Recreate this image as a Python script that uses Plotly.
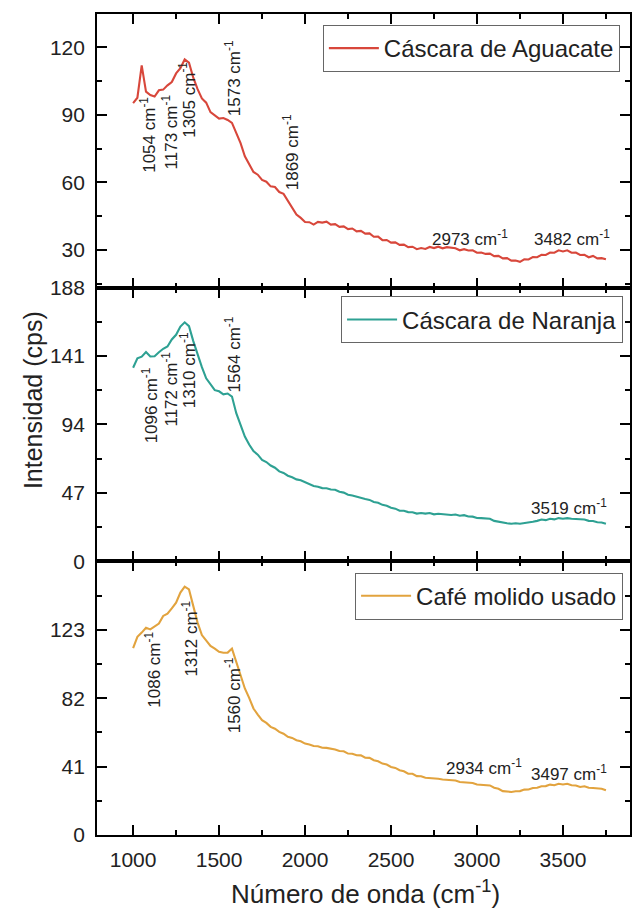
import plotly.graph_objects as go
from plotly.subplots import make_subplots

# Raman spectra of three residues, sampled every 25 cm^-1 from 1000 to 3750 cm^-1
wavenumber = list(range(1000, 3751, 25))

aguacate = [
    95.2, 97.6, 112.0, 100.3, 98.8, 98.1, 100.9, 101.2, 103.1, 104.6,
    108.4, 110.7, 114.6, 113.2, 106.5, 101.4, 97.3, 95.4, 91.2, 89.8,
    88.3, 88.6, 87.7, 86.4, 81.6, 77.4, 71.6, 68.1, 64.6, 63.4,
    61.1, 60.3, 58.2, 57.9, 55.7, 54.9, 51.8, 49.3, 45.7, 44.2,
    42.4, 42.3, 41.2, 42.4, 42.1, 42.5, 41.2, 41.4, 40.2, 40.4,
    39.2, 39.5, 38.2, 38.4, 37.2, 37.3, 35.8, 35.9, 34.3, 34.4,
    33.2, 33.3, 32.2, 32.3, 31.2, 31.4, 30.3, 30.8, 30.4, 31.3,
    30.8, 31.4, 30.7, 31.2, 30.9, 30.7, 29.8, 30.3, 29.7, 29.8,
    28.7, 28.8, 28.2, 28.3, 27.2, 27.3, 26.2, 26.3, 25.2, 25.3,
    24.7, 25.8, 25.7, 26.8, 26.7, 27.8, 27.7, 28.8, 28.7, 29.8,
    29.3, 29.8, 28.7, 28.8, 27.7, 27.8, 26.7, 27.3, 26.2, 26.3,
    25.8,
]

naranja = [
    133.0, 139.5, 140.6, 143.8, 140.7, 140.9, 143.6, 146.0, 147.6, 152.4,
    155.6, 161.3, 164.2, 161.6, 151.3, 141.6, 133.4, 125.7, 121.3, 117.6,
    116.8, 114.7, 115.3, 113.2, 101.8, 93.3, 85.7, 80.3, 75.7, 73.3,
    69.7, 68.2, 65.8, 64.3, 61.8, 60.7, 58.8, 57.7, 56.3, 55.7,
    54.3, 53.2, 51.8, 51.2, 50.3, 50.2, 49.3, 49.2, 47.8, 47.2,
    45.8, 45.2, 44.3, 43.7, 42.8, 42.2, 40.8, 40.2, 38.8, 38.2,
    36.8, 36.2, 34.8, 34.7, 33.8, 33.7, 32.8, 33.2, 32.8, 33.2,
    32.3, 32.7, 32.3, 32.2, 31.8, 32.2, 31.3, 31.7, 30.8, 30.7,
    29.8, 29.7, 29.3, 29.2, 27.8, 27.2, 26.3, 26.2, 25.8, 26.2,
    25.8, 26.2, 26.3, 27.2, 27.8, 28.7, 28.3, 29.2, 28.8, 29.7,
    29.3, 29.7, 29.3, 29.2, 28.8, 28.7, 27.8, 27.7, 26.8, 26.7,
    25.8,
]

cafe = [
    112.0, 118.8, 121.3, 124.2, 123.2, 124.8, 126.7, 131.3, 132.7, 135.8,
    139.2, 145.3, 148.8, 147.2, 136.8, 127.3, 119.8, 116.2, 113.3, 111.7,
    109.8, 109.2, 109.3, 111.7, 103.8, 96.2, 87.8, 82.2, 75.8, 72.2,
    68.8, 67.2, 64.8, 63.7, 61.8, 60.7, 58.8, 58.2, 56.8, 56.2,
    54.8, 54.2, 53.3, 53.2, 52.3, 52.2, 51.8, 51.2, 50.3, 50.2,
    48.8, 48.7, 47.8, 47.7, 46.3, 46.2, 44.8, 44.2, 42.8, 42.2,
    40.8, 40.2, 38.8, 38.2, 36.8, 36.7, 35.3, 35.2, 34.3, 34.2,
    33.8, 33.7, 33.3, 33.2, 32.8, 32.7, 31.8, 31.7, 31.3, 31.2,
    30.3, 30.2, 29.8, 29.7, 28.3, 27.7, 26.3, 26.2, 25.8, 26.2,
    26.3, 27.2, 27.3, 28.2, 28.3, 29.2, 29.3, 30.2, 29.8, 30.7,
    30.3, 30.7, 29.8, 29.7, 28.8, 29.2, 28.3, 28.2, 27.8, 27.7,
    26.8,
]

series_names = ["Cáscara de Aguacate", "Cáscara de Naranja", "Café molido usado"]
series_colors = ["#d8473b", "#2ea193", "#e2a33e"]

# Peak labels per panel: (text, x, y, rotated)
peaks_aguacate = [
    ("1054", 1085, 81, True), ("1173", 1213, 82.5, True), ("1305", 1317, 96.5, True),
    ("1573", 1578, 106.5, True), ("1869", 1920, 73.5, True),
    ("2973", 2962, 35.4, False), ("3482", 3552, 35.4, False),
]
peaks_naranja = [
    ("1096", 1097, 107, True), ("1172", 1213, 118.5, True), ("1310", 1317, 131, True),
    ("1564", 1578, 142.5, True), ("3519", 3537, 37, False),
]
peaks_cafe = [
    ("1086", 1115, 99, True), ("1312", 1329, 117.5, True), ("1560", 1578, 84, True),
    ("2934", 3039, 40.7, False), ("3497", 3537, 37, False),
]

# Axis settings for each panel
y_ranges = [[13.2, 134.8], [0, 188], [0, 164]]
y_ticks = [[30, 60, 90, 120], [0, 47, 94, 141, 188], [0, 41, 82, 123]]
y_minor = [[15, 45, 75, 105, 135], [23.5, 70.5, 117.5, 164.5], [20.5, 61.5, 102.5, 143.5]]
x_ticks = [1000, 1500, 2000, 2500, 3000, 3500]
x_minor = [1250, 1750, 2250, 2750, 3250, 3750]

FONT = "Arial, Liberation Sans, sans-serif"

fig = make_subplots(rows=3, cols=1, shared_xaxes=True, vertical_spacing=0)

all_series = [aguacate, naranja, cafe]
legend_ids = ["legend", "legend2", "legend3"]
for i, (vals, name, color) in enumerate(zip(all_series, series_names, series_colors)):
    fig.add_trace(
        go.Scatter(x=wavenumber, y=vals, mode="lines", name=name,
                   line=dict(color=color, width=2.1), legend=legend_ids[i]),
        row=i + 1, col=1,
    )

axis_common = dict(
    showline=True, linecolor="black", linewidth=1.7, mirror="allticks",
    ticks="inside", ticklen=10, tickwidth=1.7, tickcolor="black",
    showgrid=False, zeroline=False,
    tickfont=dict(family=FONT, size=21, color="#222"),
)

for i in range(3):
    fig.update_xaxes(
        range=[790, 3890], tickvals=x_ticks,
        minor=dict(tickvals=x_minor, ticks="inside", ticklen=5, tickwidth=1.7, tickcolor="black"),
        showticklabels=(i == 2), ticklabelstandoff=5,
        **axis_common, row=i + 1, col=1,
    )
    fig.update_yaxes(
        range=y_ranges[i], tickvals=y_ticks[i],
        minor=dict(tickvals=y_minor[i], ticks="inside", ticklen=5, tickwidth=1.7, tickcolor="black"),
        ticklabelstandoff=6,
        **axis_common, row=i + 1, col=1,
    )

annotations = []
for k, peaks in enumerate([peaks_aguacate, peaks_naranja, peaks_cafe]):
    suffix = "" if k == 0 else str(k + 1)
    for text, xv, yv, rot in peaks:
        annotations.append(dict(
            x=xv, y=yv, xref="x" + suffix, yref="y" + suffix,
            text=f"{text} cm<sup>-1</sup>", showarrow=False,
            textangle=-90 if rot else 0,
            font=dict(family=FONT, size=17, color="#222"),
            xanchor="center", yanchor="middle",
        ))

annotations.append(dict(
    x=0.504, y=-0.0705, xref="paper", yref="paper",
    text="Número de onda (cm<sup>-1</sup>)", showarrow=False,
    font=dict(family=FONT, size=26, color="#222"),
    xanchor="center", yanchor="middle",
))
annotations.append(dict(
    x=-0.1196, y=0.53, xref="paper", yref="paper",
    text="Intensidad (cps)", showarrow=False, textangle=-90,
    font=dict(family=FONT, size=25, color="#222"),
    xanchor="center", yanchor="middle",
))

legend_common = dict(
    xanchor="right", yanchor="top", bgcolor="white",
    bordercolor="#666", borderwidth=1,
    font=dict(family=FONT, size=24, color="#222"),
    itemwidth=50,
)

fig.update_layout(
    width=634, height=915,
    margin=dict(l=97, r=2, t=12, b=80),
    paper_bgcolor="white", plot_bgcolor="white",
    showlegend=True,
    legend=dict(x=0.981, y=0.9866, **legend_common),
    legend2=dict(x=0.987, y=0.656, **legend_common),
    legend3=dict(x=0.987, y=0.3196, **legend_common),
    annotations=annotations,
)

fig.write_html("out.html")
